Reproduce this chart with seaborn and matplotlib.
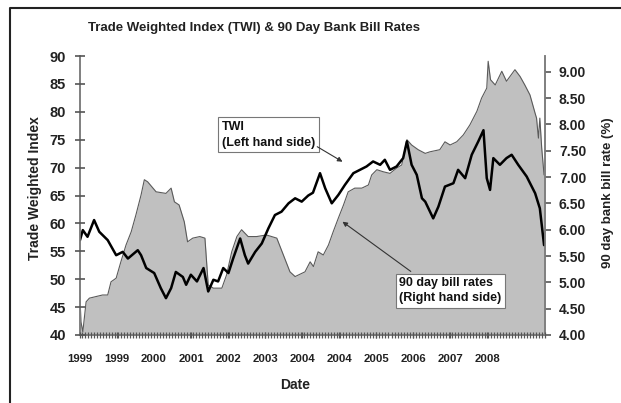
import matplotlib
matplotlib.use("Agg")
import matplotlib.pyplot as plt
from matplotlib.lines import Line2D
from matplotlib.ticker import MultipleLocator, FormatStrFormatter
import numpy as np
import pandas as pd
import seaborn as sns

# Trade weighted index (left scale), fractional year
twi_year = [1999.00, 1999.06, 1999.16, 1999.30, 1999.41, 1999.59, 1999.77, 1999.91,
            2000.02, 2000.23, 2000.30, 2000.41, 2000.58, 2000.72, 2000.83, 2000.94,
            2001.04, 2001.19, 2001.26, 2001.36, 2001.49, 2001.63, 2001.73, 2001.84,
            2001.94, 2002.05, 2002.16, 2002.26, 2002.41, 2002.51, 2002.58, 2002.73,
            2002.87, 2003.01, 2003.15, 2003.29, 2003.44, 2003.58, 2003.72, 2003.86,
            2003.96, 2004.11, 2004.22, 2004.36, 2004.50, 2004.64, 2004.82, 2004.96,
            2005.10, 2005.24, 2005.39, 2005.49, 2005.60, 2005.74, 2005.88, 2005.96,
            2006.06, 2006.17, 2006.28, 2006.35, 2006.52, 2006.63, 2006.77, 2006.95,
            2007.05, 2007.20, 2007.34, 2007.48, 2007.59, 2007.66, 2007.73, 2007.80,
            2007.94, 2008.08, 2008.19, 2008.33, 2008.51, 2008.69, 2008.79, 2008.88]
twi_value = [57.0, 58.8, 57.6, 60.6, 58.5, 57.0, 54.3, 54.9,
             53.7, 55.2, 54.3, 52.0, 51.1, 48.4, 46.6, 48.4,
             51.3, 50.4, 49.0, 50.8, 49.6, 52.0, 47.8, 49.9,
             49.6, 52.0, 51.1, 53.7, 57.3, 54.3, 52.8, 54.9,
             56.4, 59.1, 61.5, 62.1, 63.6, 64.5, 63.9, 65.0,
             65.5, 69.0, 66.3, 63.6, 65.1, 66.9, 69.0, 69.6,
             70.2, 71.1, 70.5, 71.4, 69.6, 70.2, 71.7, 74.7,
             70.5, 68.7, 64.5, 63.9, 60.9, 63.0, 66.6, 67.2,
             69.6, 68.1, 72.3, 74.7, 76.7, 68.1, 66.0, 71.7,
             70.5, 71.7, 72.3, 70.5, 68.4, 65.4, 62.7, 56.1]

# 90 day bank bill rate (right scale, %)
rate_year = [1999.00, 1999.02, 1999.06, 1999.13, 1999.20, 1999.34, 1999.48, 1999.59,
             1999.66, 1999.77, 1999.87, 1999.98, 2000.09, 2000.19, 2000.30, 2000.37,
             2000.44, 2000.62, 2000.83, 2000.94, 2001.01, 2001.11, 2001.22, 2001.29,
             2001.40, 2001.55, 2001.66, 2001.70, 2001.73, 2001.84, 2002.02, 2002.12,
             2002.23, 2002.34, 2002.44, 2002.58, 2002.76, 2002.97, 2003.19, 2003.33,
             2003.47, 2003.58, 2003.72, 2003.79, 2003.90, 2003.97, 2004.07, 2004.18,
             2004.29, 2004.39, 2004.50, 2004.61, 2004.71, 2004.85, 2005.00, 2005.14,
             2005.21, 2005.32, 2005.46, 2005.60, 2005.74, 2005.85, 2005.96, 2006.06,
             2006.20, 2006.35, 2006.45, 2006.66, 2006.77, 2006.88, 2007.02, 2007.16,
             2007.30, 2007.45, 2007.55, 2007.66, 2007.69, 2007.74, 2007.84, 2007.98,
             2008.08, 2008.26, 2008.37, 2008.47, 2008.58, 2008.69, 2008.72, 2008.76,
             2008.79, 2008.83, 2008.88]
rate_value = [4.73, 4.25, 4.06, 4.63, 4.70, 4.73, 4.76, 4.76,
              5.01, 5.08, 5.39, 5.71, 5.96, 6.28, 6.66, 6.95,
              6.91, 6.72, 6.69, 6.79, 6.53, 6.47, 6.15, 5.77,
              5.84, 5.87, 5.84, 5.33, 4.95, 4.89, 4.89, 5.14,
              5.58, 5.87, 6.00, 5.87, 5.87, 5.90, 5.84, 5.52,
              5.20, 5.11, 5.17, 5.20, 5.39, 5.30, 5.58, 5.52,
              5.71, 5.96, 6.22, 6.47, 6.72, 6.79, 6.79, 6.85,
              7.04, 7.14, 7.10, 7.07, 7.17, 7.23, 7.71, 7.61,
              7.52, 7.45, 7.48, 7.52, 7.67, 7.61, 7.67, 7.80,
              7.99, 8.25, 8.50, 8.69, 9.20, 8.85, 8.75, 9.01,
              8.82, 9.04, 8.91, 8.75, 8.56, 8.21, 8.12, 7.74,
              8.12, 7.55, 7.04]

date_labels = ["1999", "1999", "2000", "2001", "2002", "2003",
               "2004", "2004", "2005", "2006", "2007", "2008"]

twi = pd.DataFrame({"Date": twi_year, "TWI": twi_value})
rates = pd.DataFrame({"Date": rate_year, "Rate": rate_value})

grey = "#7f7f7f"
sns.set_style("white")
plt.rcParams.update({
    "font.family": ["Liberation Sans", "DejaVu Sans"],
    "font.weight": "bold",
    "text.color": "#222222",
    "axes.edgecolor": grey,
    "axes.linewidth": 1.2,
    "axes.axisbelow": False,
    "xtick.bottom": True, "ytick.left": True, "ytick.right": True,
})

fig = plt.figure(figsize=(6.21, 4.03), dpi=100)
ax = fig.add_axes([80 / 621, 1 - 335 / 403, 465 / 621, 279 / 403])
ax2 = ax.twinx()

# shaded bill rate area on the right scale
ax2.fill_between(rates["Date"], rates["Rate"], 4.0, color="#c0c0c0", lw=0)
sns.lineplot(data=rates, x="Date", y="Rate", ax=ax2, color="#5a5a5a", lw=0.8)
sns.lineplot(data=twi, x="Date", y="TWI", ax=ax, color="black", lw=1.8)

ax.set_zorder(ax2.get_zorder() + 1)
ax.patch.set_visible(False)

ax.set_xlim(1999.0, 2008.9)
ax.set_ylim(40, 90)
ax2.set_ylim(4.0, 9.3)
ax.set_yticks(range(40, 91, 5))
ax2.set_yticks(np.arange(4.0, 9.01, 0.5))
ax2.yaxis.set_major_formatter(FormatStrFormatter("%.2f"))
ax.set_xticks([1999.0 + k * 0.788 for k in range(len(date_labels))])
ax.set_xticklabels(date_labels)
ax.xaxis.set_minor_locator(MultipleLocator(0.064))
ax.set_xlabel("")
ax.set_ylabel("")
ax2.set_ylabel("")
ax.spines["top"].set_visible(False)
ax2.spines["top"].set_visible(False)

ax.tick_params(axis="y", which="both", left=True, right=False, direction="inout",
               length=7, width=1.2, color="#555555",
               pad=6.5, labelsize=10.5, labelcolor="#222222")
ax2.tick_params(axis="y", which="both", left=False, right=True, direction="out",
                length=4, width=1.2, color="#555555",
                pad=6, labelsize=10, labelcolor="#222222")
ax.tick_params(axis="x", which="both", bottom=True, direction="inout",
               length=5, width=0.9, color="#555555",
               pad=11, labelsize=8.2, labelcolor="#222222")

fig.text(254 / 621, 1 - 28 / 403, "Trade Weighted Index (TWI) & 90 Day Bank Bill Rates",
         ha="center", va="center", fontsize=9.5)
fig.text(35 / 621, 1 - 188 / 403, "Trade Weighted Index", rotation=90,
         ha="center", va="center", fontsize=10)
fig.text(608 / 621, 1 - 193 / 403, "90 day bank bill rate (%)", rotation=90,
         ha="center", va="center", fontsize=9.5)
fig.text(295 / 621, 1 - 385 / 403, "Date", ha="center", va="center", fontsize=10)

box = dict(boxstyle="square,pad=0.3", fc="white", ec="#777777", lw=0.8)
arrow = dict(arrowstyle="-|>", color="#333333", lw=0.8, mutation_scale=7)
ax.text(2002.02, 75.9, "TWI\n(Left hand side)", ha="left", va="center",
        fontsize=9, linespacing=1.45, bbox=box, color="#111111")
ax.annotate("", xy=(2004.64, 70.8), xytext=(2004.0, 74.0), arrowprops=arrow)
ax.text(2005.80, 47.9, "90 day bill rates\n(Right hand side)", ha="left", va="center",
        fontsize=9, linespacing=1.35, bbox=box, color="#111111")
ax.annotate("", xy=(2004.54, 60.6), xytext=(2006.09, 51.1), arrowprops=arrow)

# outer frame of the chart (left and top edges)
fig.add_artist(Line2D([10 / 621, 10 / 621, 1.0], [0.0, 1 - 8 / 403, 1 - 8 / 403],
                      transform=fig.transFigure, color="#222222", lw=1.5))

fig.savefig("out.png", dpi=100)
